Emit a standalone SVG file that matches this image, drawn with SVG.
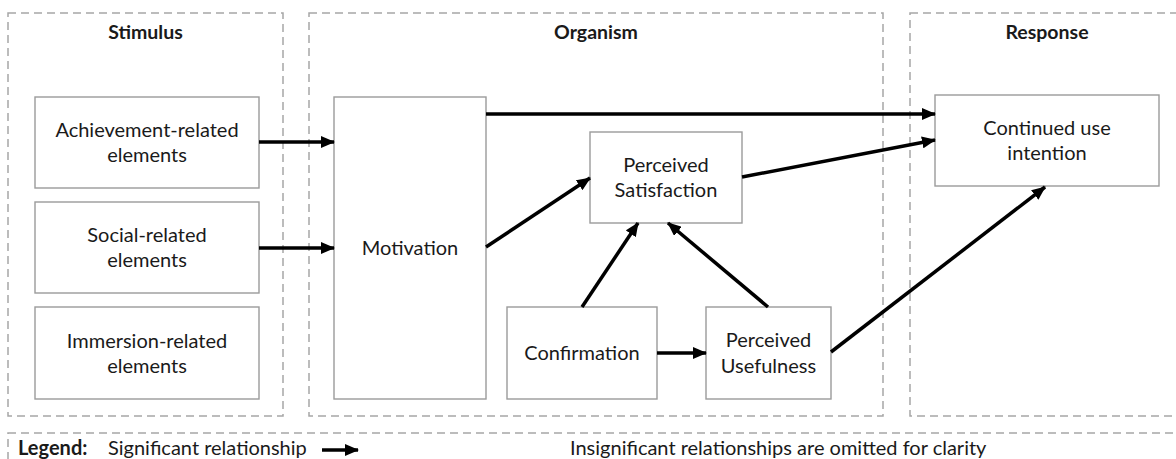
<svg xmlns="http://www.w3.org/2000/svg" width="1176" height="459" viewBox="0 0 1176 459">
  <style>
    .panel { fill: none; stroke: #a6a6a6; stroke-width: 1.5; stroke-dasharray: 8 5; }
    .box { fill: #ffffff; stroke: #9b9b9b; stroke-width: 1.4; }
    .lbl { font-family: Lato, "Open Sans", sans-serif; font-size: 20px; fill: #1a1a1a; text-anchor: middle; }
    .hdr { font-family: Lato, "Open Sans", sans-serif; font-size: 19.5px; font-weight: bold; fill: #1a1a1a; text-anchor: middle; }
    .leg { font-family: Lato, "Open Sans", sans-serif; font-size: 20px; fill: #1a1a1a; }
    .edge { fill: none; stroke: #000000; stroke-width: 3.5; marker-end: url(#arrow); }
  </style>
  <defs>
    <marker id="arrow" markerUnits="userSpaceOnUse" markerWidth="14" markerHeight="12" refX="13" refY="6" orient="auto">
      <path d="M0,0 L14,6 L0,12 Z" fill="#000000"/>
    </marker>
  </defs>
  <rect width="1176" height="459" fill="#ffffff"/>

  <!-- S-O-R panels -->
  <g id="panels">
    <rect class="panel" x="8" y="13" width="275" height="403"/>
    <rect class="panel" x="309" y="13" width="574" height="403"/>
    <rect class="panel" x="910" y="13" width="274" height="403"/>
    <text class="hdr" x="145.5" y="39">Stimulus</text>
    <text class="hdr" x="596" y="39">Organism</text>
    <text class="hdr" x="1047" y="39">Response</text>
  </g>

  <!-- Stimulus elements -->
  <g id="achievement">
    <rect class="box" x="35" y="97" width="224" height="91"/>
    <text class="lbl" x="147" y="137">Achievement-related</text>
    <text class="lbl" x="147" y="162">elements</text>
  </g>
  <g id="social">
    <rect class="box" x="35" y="202" width="224" height="91"/>
    <text class="lbl" x="147" y="242">Social-related</text>
    <text class="lbl" x="147" y="267">elements</text>
  </g>
  <g id="immersion">
    <rect class="box" x="35" y="307" width="224" height="92"/>
    <text class="lbl" x="147" y="348">Immersion-related</text>
    <text class="lbl" x="147" y="373">elements</text>
  </g>

  <!-- Organism constructs -->
  <g id="motivation">
    <rect class="box" x="334" y="97" width="152" height="302"/>
    <text class="lbl" x="410" y="255">Motivation</text>
  </g>
  <g id="satisfaction">
    <rect class="box" x="590" y="132" width="152" height="91"/>
    <text class="lbl" x="666" y="172">Perceived</text>
    <text class="lbl" x="666" y="197">Satisfaction</text>
  </g>
  <g id="confirmation">
    <rect class="box" x="507" y="307" width="150" height="92"/>
    <text class="lbl" x="582" y="360">Confirmation</text>
  </g>
  <g id="usefulness">
    <rect class="box" x="706" y="307" width="125" height="92"/>
    <text class="lbl" x="768.5" y="347">Perceived</text>
    <text class="lbl" x="768.5" y="373">Usefulness</text>
  </g>

  <!-- Response -->
  <g id="continued">
    <rect class="box" x="935" y="95" width="224" height="91"/>
    <text class="lbl" x="1047" y="135">Continued use</text>
    <text class="lbl" x="1047" y="160">intention</text>
  </g>

  <!-- Significant paths -->
  <g id="connectors">
    <line class="edge" x1="259" y1="142" x2="334" y2="142"/>
    <line class="edge" x1="259" y1="248" x2="334" y2="248"/>
    <line class="edge" x1="486" y1="114" x2="935" y2="114"/>
    <line class="edge" x1="486" y1="247" x2="590" y2="178"/>
    <line class="edge" x1="742" y1="177" x2="935" y2="140"/>
    <line class="edge" x1="582" y1="307" x2="638" y2="223"/>
    <line class="edge" x1="768" y1="307" x2="668" y2="223"/>
    <line class="edge" x1="657" y1="353" x2="706" y2="353"/>
    <line class="edge" x1="831" y1="352" x2="1045" y2="187"/>
  </g>

  <!-- Legend -->
  <g id="legend">
    <rect class="panel" x="8" y="433" width="1176" height="40"/>
    <text class="leg" x="18" y="455" font-weight="bold">Legend:</text>
    <text class="leg" x="108" y="455">Significant relationship</text>
    <line class="edge" x1="322" y1="450" x2="358" y2="450"/>
    <text class="leg" x="570" y="455">Insignificant relationships are omitted for clarity</text>
  </g>
</svg>
